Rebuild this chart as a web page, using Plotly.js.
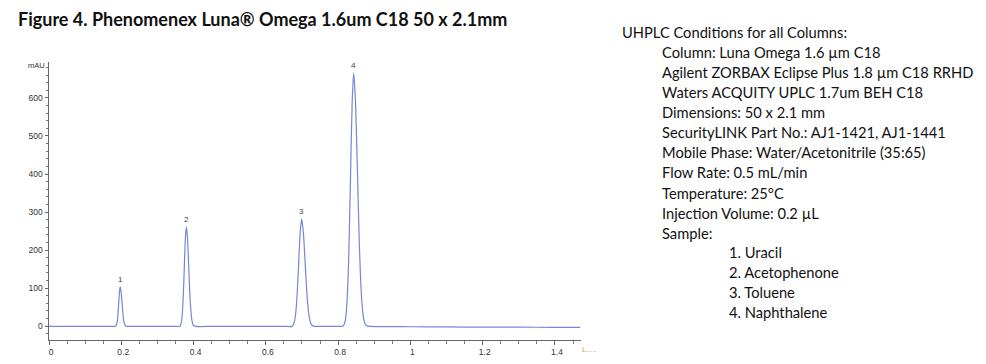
<!DOCTYPE html>
<html>
<head>
<meta charset="utf-8">
<script src="https://cdn.plot.ly/plotly-3.0.1.min.js"></script>
<style>
html,body{margin:0;padding:0;background:#fff;}
#chart{width:986px;height:364px;}
</style>
</head>
<body>
<div id="chart"></div>
<script>
// Chromatogram trace (retention time in min, absorbance in mAU)
const timeMin = [
  0, 0.05, 0.10, 0.15, 0.18,
  0.185, 0.189, 0.191, 0.193, 0.195, 0.197, 0.1995, 0.202, 0.2045, 0.207, 0.2095, 0.212, 0.218,
  0.25, 0.30, 0.35, 0.362,
  0.3635, 0.36625, 0.369, 0.37175, 0.3745, 0.37725, 0.380, 0.38325, 0.3865, 0.38975, 0.393, 0.39625, 0.3995, 0.406,
  0.45, 0.50, 0.55, 0.60, 0.65, 0.672,
  0.675, 0.679, 0.683, 0.687, 0.691, 0.695, 0.699, 0.70375, 0.7085, 0.71325, 0.718, 0.72275, 0.7275, 0.735,
  0.75, 0.80, 0.81,
  0.8133, 0.8175, 0.82175, 0.826, 0.83025, 0.8345, 0.83875, 0.843, 0.84825, 0.8535, 0.85875, 0.864, 0.86925, 0.8745, 0.87975, 0.89,
  0.95, 1.00, 1.10, 1.20, 1.30, 1.40, 1.47
];
const absorbance = [
  -1, -1, -1, -1, -1,
  0, 13, 33, 62, 90, 103, 90, 62, 33, 13, 4, 0, -1,
  -1, -1, -1, -1,
  2, 11, 35, 84, 158, 230, 261, 230, 158, 84, 35, 11, 2, -1,
  -1, -1, -1, -1, -1, -1,
  2, 12, 37, 91, 170, 247, 281, 247, 170, 91, 37, 12, 2, -1,
  -1, -1, -1,
  0, 6, 28, 89, 215, 403, 586, 666, 586, 403, 215, 89, 28, 6, 1, -1,
  -1.5, -2, -2.5, -3, -3, -3.5, -3.5
];

// Peak labels
const peakLabels = ['1', '2', '3', '4'];
const peakTimes = [0.197, 0.380, 0.699, 0.843];
const peakHeights = [103, 261, 281, 666];

// Tick labels
const xTickVals = [0, 0.2, 0.4, 0.6, 0.8, 1, 1.2, 1.4];
const xTickText = ['0', '0.2', '0.4', '0.6', '0.8', '1', '1.2', '1.4'];
const yTickVals = [0, 100, 200, 300, 400, 500, 600];
const yTickText = ['0', '100', '200', '300', '400', '500', '600'];

// Texts
const chartTitle = 'Figure 4. Phenomenex Luna® Omega 1.6um C18 50 x 2.1mm';
const conditionsHeader = 'UHPLC Conditions for all Columns:';
const conditionLines = [
  'Column: Luna Omega 1.6 µm C18',
  'Agilent ZORBAX Eclipse Plus 1.8 µm C18 RRHD',
  'Waters ACQUITY UPLC 1.7um BEH C18',
  'Dimensions: 50 x 2.1 mm',
  'SecurityLINK Part No.: AJ1-1421, AJ1-1441',
  'Mobile Phase: Water/Acetonitrile (35:65)',
  'Flow Rate: 0.5 mL/min',
  'Temperature: 25°C',
  'Injection Volume: 0.2 µL',
  'Sample:'
];
const sampleLines = ['1. Uracil', '2. Acetophenone', '3. Toluene', '4. Naphthalene'];

// ---- layout helpers (pixel geometry) ----
const W = 986, H = 364;
const M = {l: 49, r: 405, t: 62, b: 24};
const plotW = W - M.l - M.r, plotH = H - M.t - M.b;
const px2paperX = px => (px - M.l) / plotW;
const py2paperY = py => (H - M.b - py) / plotH;

const textFont = {family: 'Lato, "Open Sans", sans-serif', size: 14.7, color: '#111'};
const annotations = [];

peakLabels.forEach((lab, i) => {
  annotations.push({
    x: peakTimes[i], y: peakHeights[i], xref: 'x', yref: 'y',
    text: lab, showarrow: false, yanchor: 'bottom', yshift: 1,
    font: {family: '"Liberation Sans", Arial, sans-serif', size: 8, color: '#4a3f2c'}
  });
});

annotations.push({
  x: px2paperX(47), y: py2paperY(65), xref: 'paper', yref: 'paper',
  text: 'mAU', showarrow: false, xanchor: 'right', yanchor: 'middle',
  font: {family: '"Liberation Sans", Arial, sans-serif', size: 7.5, color: '#333'}
});
annotations.push({
  x: px2paperX(580), y: py2paperY(349), xref: 'paper', yref: 'paper',
  text: 'L.....', showarrow: false, xanchor: 'left', yanchor: 'middle',
  font: {family: '"Liberation Sans", Arial, sans-serif', size: 7.5, color: '#c89a5a'}
});

const lineStep = 20.07;
annotations.push({
  x: px2paperX(620), y: py2paperY(32), xref: 'paper', yref: 'paper',
  text: conditionsHeader, showarrow: false, xanchor: 'left', yanchor: 'middle',
  font: textFont
});
conditionLines.forEach((t, i) => {
  annotations.push({
    x: px2paperX(660), y: py2paperY(32 + lineStep * (i + 1)), xref: 'paper', yref: 'paper',
    text: t, showarrow: false, xanchor: 'left', yanchor: 'middle', font: textFont
  });
});
sampleLines.forEach((t, i) => {
  annotations.push({
    x: px2paperX(727), y: py2paperY(31 + lineStep * (i + 1 + conditionLines.length)), xref: 'paper', yref: 'paper',
    text: t, showarrow: false, xanchor: 'left', yanchor: 'middle', font: textFont
  });
});

const trace = {
  x: timeMin, y: absorbance, type: 'scatter', mode: 'lines',
  line: {color: '#7388d4', width: 1.2, shape: 'spline', smoothing: 0.6},
  hoverinfo: 'skip'
};

const tickFont = {family: '"Liberation Sans", Arial, sans-serif', size: 8.5, color: '#333'};

const layout = {
  width: W, height: H,
  margin: M,
  paper_bgcolor: '#fff', plot_bgcolor: '#fff',
  showlegend: false,
  title: {
    text: '<b>' + chartTitle + '</b>',
    xref: 'container', yref: 'container',
    x: 18 / W, xanchor: 'left', y: 1 - 20 / H, yanchor: 'middle',
    font: {family: 'Lato, "Open Sans", sans-serif', size: 18, color: '#111'}
  },
  xaxis: {
    range: [0, 1.472], showgrid: false, zeroline: false,
    showline: true, linecolor: '#666', linewidth: 1,
    tickmode: 'array', tickvals: xTickVals, ticktext: xTickText,
    ticks: 'outside', ticklen: 4, tickcolor: '#666', tickwidth: 1,
    tickfont: tickFont, ticklabelshift: 2,
    minor: {dtick: 0.05, tick0: 0, ticks: 'outside', ticklen: 2.5, tickcolor: '#777', showgrid: false}
  },
  yaxis: {
    range: [-36.8, 694.7], showgrid: false, zeroline: false,
    showline: true, linecolor: '#666', linewidth: 1,
    tickmode: 'array', tickvals: yTickVals, ticktext: yTickText,
    ticks: 'outside', ticklen: 3.5, tickcolor: '#666', tickwidth: 1,
    tickfont: tickFont,
    minor: {dtick: 20, tick0: 0, ticks: 'outside', ticklen: 2, tickcolor: '#777', showgrid: false}
  },
  annotations: annotations
};

Plotly.newPlot('chart', [trace], layout, {staticPlot: true, displayModeBar: false});
</script>
</body>
</html>
